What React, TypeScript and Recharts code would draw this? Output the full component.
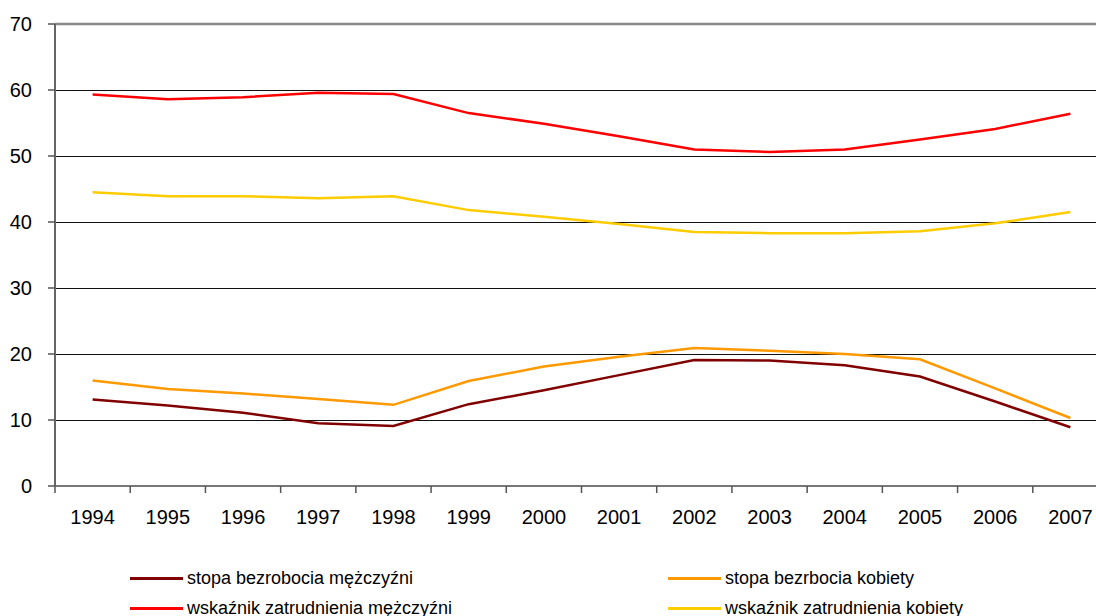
import React from 'react';
import { LineChart, Line, XAxis, YAxis, CartesianGrid, ReferenceLine } from 'recharts';

const years = ['1994', '1995', '1996', '1997', '1998', '1999', '2000', '2001', '2002', '2003', '2004', '2005', '2006', '2007'];
const bezrobocieM = [13.1, 12.2, 11.1, 9.5, 9.1, 12.4, 14.5, 16.8, 19.1, 19.0, 18.3, 16.6, 12.8, 8.9];
const bezrobocieK = [16.0, 14.7, 14.0, 13.2, 12.3, 15.9, 18.1, 19.6, 20.9, 20.5, 20.0, 19.2, 14.8, 10.3];
const zatrudnienieM = [59.3, 58.6, 58.9, 59.6, 59.4, 56.5, 54.9, 53.0, 51.0, 50.6, 51.0, 52.5, 54.1, 56.4];
const zatrudnienieK = [44.5, 43.9, 43.9, 43.6, 43.9, 41.8, 40.8, 39.7, 38.5, 38.3, 38.3, 38.6, 39.8, 41.5];
const yTicks = [0, 10, 20, 30, 40, 50, 60, 70];

const seriesNames = ['stopa bezrobocia mężczyźni', 'stopa bezrbocia kobiety', 'wskaźnik zatrudnienia mężczyźni', 'wskaźnik zatrudnienia kobiety'];
const seriesColors = ['#800000', '#FF9900', '#FF0000', '#FFCC00'];
const seriesKeys = ['bm', 'bk', 'zm', 'zk'];

const data = years.map((y, i) => ({
  year: y,
  bm: bezrobocieM[i],
  bk: bezrobocieK[i],
  zm: zatrudnienieM[i],
  zk: zatrudnienieK[i],
}));

const FONT = '"Liberation Sans", Arial, sans-serif';

const XTick = (props: any) => {
  const { x, y, payload } = props;
  const off = payload && typeof payload.offset === 'number' && payload.offset > 0 ? payload.offset : 37.6;
  return (
    <g>
      <line x1={x - off} y1={y} x2={x - off} y2={y + 7} stroke="#555" strokeWidth={1.5} />
      <text x={x} y={y + 38} textAnchor="middle" fontSize={20} fontFamily={FONT} fill="#000">
        {payload.value}
      </text>
    </g>
  );
};

const legendPos = [
  { left: 130, top: 578 },
  { left: 668, top: 578 },
  { left: 130, top: 608 },
  { left: 668, top: 608 },
];

export default function App() {
  return (
    <div style={{ position: 'absolute', left: 0, top: 0, width: 1096, height: 616, overflow: 'hidden', background: '#fff' }}>
      <LineChart width={1110} height={540} data={data} margin={{ top: 24, right: 2, left: 0, bottom: 0 }}>
        <CartesianGrid horizontal vertical={false} stroke="#111" strokeWidth={1} shapeRendering="crispEdges" />
        <ReferenceLine y={70} stroke="#888" strokeWidth={2.5} />
        <XAxis
          dataKey="year"
          scale="band"
          height={54}
          tickLine={false}
          tickSize={0}
          tickMargin={0}
          interval={0}
          axisLine={{ stroke: '#777', strokeWidth: 2 }}
          tick={<XTick />}
        />
        <YAxis
          domain={[0, 70]}
          ticks={yTicks}
          width={55}
          interval={0}
          tickSize={7}
          tickMargin={16}
          tickLine={{ stroke: '#555', strokeWidth: 1.5 }}
          axisLine={{ stroke: '#666', strokeWidth: 2 }}
          tick={{ fontSize: 20, fontFamily: FONT, fill: '#000' }}
        />
        {seriesKeys.map((k, i) => (
          <Line
            key={k}
            type="linear"
            dataKey={k}
            name={seriesNames[i]}
            stroke={seriesColors[i]}
            strokeWidth={2.5}
            dot={false}
            activeDot={false}
            isAnimationActive={false}
          />
        ))}
      </LineChart>
      {seriesNames.map((n, i) => (
        <div
          key={n}
          style={{
            position: 'absolute',
            left: legendPos[i].left,
            top: legendPos[i].top - 12,
            height: 24,
            display: 'flex',
            alignItems: 'center',
            whiteSpace: 'nowrap',
            fontFamily: FONT,
            fontSize: 18,
            color: '#000',
          }}
        >
          <div style={{ width: 53, height: 3, background: seriesColors[i], marginRight: 4 }} />
          <span>{n}</span>
        </div>
      ))}
    </div>
  );
}
